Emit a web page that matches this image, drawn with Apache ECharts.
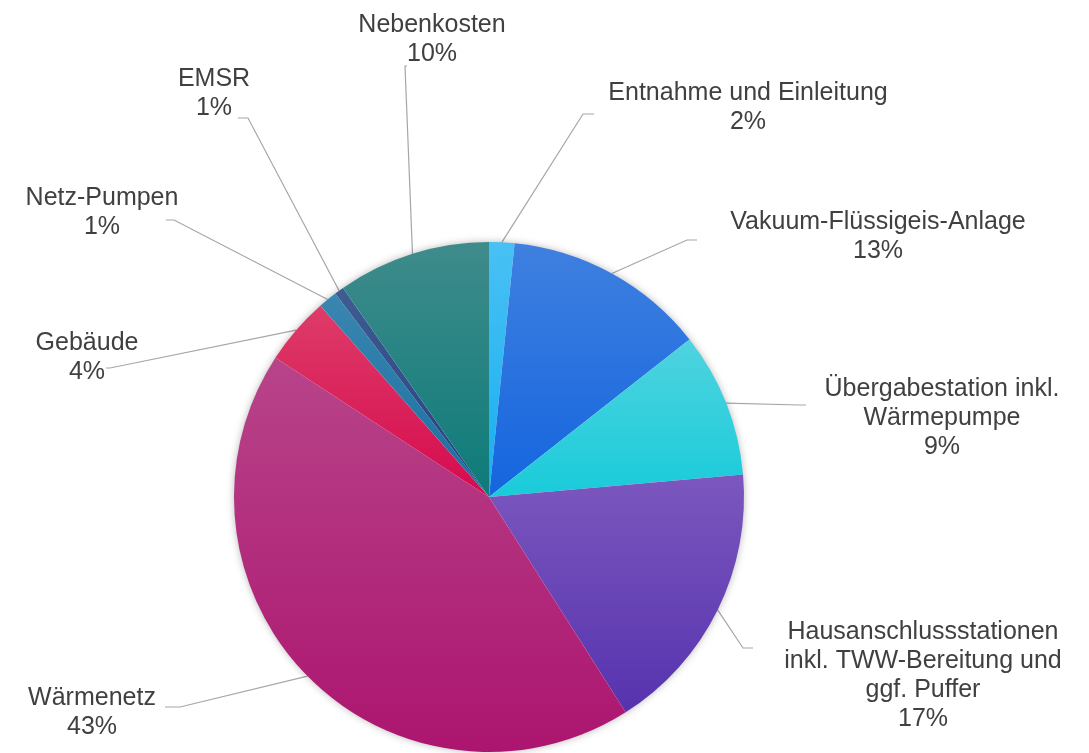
<!DOCTYPE html>
<html>
<head>
<meta charset="utf-8">
<script src="https://cdn.jsdelivr.net/npm/echarts@6/dist/echarts.min.js"></script>
<style>
  html, body { margin: 0; padding: 0; background: #ffffff; }
  #chart { width: 1089px; height: 753px; }
</style>
</head>
<body>
<div id="chart"></div>
<script>
// ---- data ----
var categories = [
  'Entnahme und Einleitung',
  'Vakuum-Flüssigeis-Anlage',
  'Übergabestation inkl.\nWärmepumpe',
  'Hausanschlussstationen\ninkl. TWW-Bereitung und\nggf. Puffer',
  'Wärmenetz',
  'Gebäude',
  'Netz-Pumpen',
  'EMSR',
  'Nebenkosten'
];
var shares = [1.6, 12.8, 9.2, 17.4, 43.2, 4.3, 1.2, 0.6, 9.7];

// ---- styles (kept apart from data) ----
var sliceColors = [
  ['#48C1F5', '#18AEEF'],
  ['#3F80DF', '#1465DF'],
  ['#4FD3DF', '#19CBDA'],
  ['#7B57BE', '#5633AE'],
  ['#B8448A', '#AC156F'],
  ['#DE3C69', '#D60A4E'],
  ['#3A86B0', '#186FA0'],
  ['#3F5C92', '#263E80'],
  ['#3F8B8B', '#0D7B79']
];
// label block centres and leader-line elbows / ends
var labelPlace = [
  { x: 748, y: 108, elbow: [583, 114], end: [594, 114] },
  { x: 878, y: 237, elbow: [687, 240], end: [697, 240] },
  { x: 942, y: 418, elbow: [800, 405], end: [806, 405] },
  { x: 923, y: 676, elbow: [743, 648], end: [753, 648] },
  { x: 92,  y: 713, elbow: [180, 707], end: [165, 707] },
  { x: 87,  y: 358, elbow: [110, 368], end: [106, 368] },
  { x: 102, y: 213, elbow: [174, 220], end: [166, 220] },
  { x: 214, y: 94,  elbow: [248, 118], end: [238, 118] },
  { x: 432, y: 40,  elbow: [405, 66],  end: [407, 66] }
];

var chart = echarts.init(document.getElementById('chart'), null, { renderer: 'canvas' });

var pieData = categories.map(function (name, i) {
  return {
    name: name,
    value: shares[i],
    itemStyle: {
      color: new echarts.graphic.LinearGradient(0, 0, 0, 1, [
        { offset: 0, color: sliceColors[i][0] },
        { offset: 1, color: sliceColors[i][1] }
      ])
    }
  };
});

var CENTER = [489, 497];
var RADIUS = 255;

chart.setOption({
  backgroundColor: '#ffffff',
  animation: false,
  series: [
    {
      // soft outer glow under the pie
      type: 'pie',
      silent: true,
      center: CENTER,
      radius: RADIUS - 1,
      label: { show: false },
      labelLine: { show: false },
      data: [{ value: 1, itemStyle: { color: '#ffffff', shadowBlur: 8, shadowColor: 'rgba(0,0,0,0.35)' } }]
    },
    {
      type: 'pie',
      center: CENTER,
      radius: RADIUS,
      startAngle: 90,
      clockwise: true,
      avoidLabelOverlap: false,
      itemStyle: { borderWidth: 0 },
      label: {
        show: true,
        position: 'outside',
        fontFamily: 'Liberation Sans, Arial, sans-serif',
        fontSize: 25,
        lineHeight: 29,
        color: '#404040',
        formatter: function (p) {
          return p.name + '\n' + Math.round(p.percent) + '%';
        }
      },
      labelLine: {
        show: true,
        lineStyle: { color: '#A6A6A6', width: 1.2 }
      },
      labelLayout: function (params) {
        var lp = labelPlace[params.dataIndex];
        var start = params.labelLinePoints ? params.labelLinePoints[0] : lp.elbow;
        return {
          x: lp.x,
          y: lp.y,
          align: 'center',
          verticalAlign: 'middle',
          labelLinePoints: [start, lp.elbow, lp.end]
        };
      },
      data: pieData
    }
  ]
});
</script>
</body>
</html>
